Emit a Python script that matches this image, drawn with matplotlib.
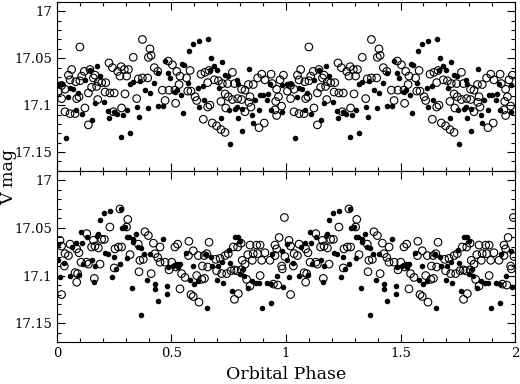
import matplotlib
matplotlib.use("Agg")
import matplotlib.pyplot as plt
import numpy as np
from matplotlib.ticker import MultipleLocator

# Phase-folded photometry, phase 0-1 (plotted twice, 0-2)
top_open_phase = [0.100, 0.227, 0.242, 0.144, 0.119, 0.050, 0.064, 0.057, 0.082, 0.100,
                  0.108, 0.020, 0.006, 0.035, 0.159, 0.166, 0.181, 0.195, 0.213, 0.173,
                  0.151, 0.137, 0.210, 0.231, 0.250, 0.020, 0.086, 0.096, 0.178, 0.122,
                  0.035, 0.057, 0.079, 0.137, 0.246,
                  0.373, 0.406, 0.333, 0.399, 0.411, 0.486, 0.504, 0.280, 0.294, 0.312,
                  0.265, 0.275, 0.304, 0.425, 0.440, 0.355, 0.373, 0.396, 0.489, 0.460,
                  0.297, 0.348, 0.518, 0.472, 0.282, 0.515,
                  0.523, 0.581, 0.629, 0.646, 0.664, 0.766, 0.537, 0.566, 0.658, 0.687,
                  0.705, 0.722, 0.745, 0.775, 0.533, 0.585, 0.571, 0.603, 0.610, 0.734,
                  0.748, 0.766, 0.668, 0.658, 0.716, 0.737, 0.639, 0.678, 0.697, 0.716,
                  0.734,
                  0.894, 0.935, 0.989, 0.876, 0.908, 0.836, 0.857, 0.806, 0.821, 0.940,
                  0.959, 0.974, 0.789, 0.806, 0.843, 0.838, 0.847, 0.967, 0.955, 0.821,
                  0.952, 0.959, 0.981, 0.905, 0.882]
top_open_mag = [17.038, 17.055, 17.060, 17.062, 17.064, 17.068, 17.062, 17.073, 17.075, 17.074,
                17.069, 17.079, 17.085, 17.083, 17.071, 17.068, 17.075, 17.076, 17.076, 17.080,
                17.081, 17.087, 17.086, 17.087, 17.087, 17.093, 17.093, 17.091, 17.094, 17.103,
                17.107, 17.109, 17.109, 17.121, 17.107,
                17.030, 17.040, 17.049, 17.049, 17.047, 17.053, 17.057, 17.059, 17.062, 17.062,
                17.064, 17.069, 17.069, 17.060, 17.064, 17.072, 17.071, 17.071, 17.084, 17.084,
                17.088, 17.093, 17.098, 17.095, 17.103, 17.084,
                17.064, 17.063, 17.067, 17.065, 17.063, 17.065, 17.069, 17.071, 17.076, 17.073,
                17.074, 17.077, 17.077, 17.077, 17.078, 17.085, 17.085, 17.091, 17.095, 17.088,
                17.091, 17.094, 17.100, 17.102, 17.096, 17.103, 17.115, 17.119, 17.122, 17.126,
                17.129,
                17.067, 17.067, 17.068, 17.071, 17.073, 17.078, 17.078, 17.083, 17.084, 17.077,
                17.083, 17.073, 17.093, 17.094, 17.091, 17.097, 17.102, 17.091, 17.096, 17.107,
                17.105, 17.111, 17.101, 17.119, 17.124]

top_filled_phase = [0.173, 0.144, 0.006, 0.020, 0.071, 0.057, 0.122, 0.188, 0.093, 0.050,
                    0.166, 0.207, 0.082, 0.108, 0.224, 0.227, 0.250, 0.151, 0.038,
                    0.472, 0.443, 0.486, 0.494, 0.425, 0.319, 0.333, 0.362, 0.384, 0.406,
                    0.515, 0.348, 0.396, 0.440, 0.464, 0.304, 0.290, 0.261, 0.358, 0.319,
                    0.280,
                    0.595, 0.620, 0.661, 0.577, 0.673, 0.719, 0.544, 0.556, 0.687, 0.697,
                    0.668, 0.734, 0.571, 0.639, 0.708, 0.748, 0.523, 0.542, 0.617, 0.644,
                    0.620, 0.777, 0.751, 0.552, 0.716, 0.756,
                    0.838, 0.785, 0.792, 0.930, 0.981, 0.887, 0.901, 0.923, 0.916, 0.865,
                    0.785, 0.809, 0.882, 0.935, 0.981, 0.792, 0.850, 0.857, 0.809]
top_filled_mag = [17.058, 17.062, 17.077, 17.077, 17.083, 17.082, 17.073, 17.069, 17.087, 17.091,
                  17.098, 17.097, 17.105, 17.109, 17.106, 17.114, 17.107, 17.116, 17.135,
                  17.053, 17.066, 17.066, 17.071, 17.076, 17.077, 17.075, 17.074, 17.084, 17.087,
                  17.086, 17.102, 17.103, 17.101, 17.101, 17.105, 17.111, 17.109, 17.113, 17.130,
                  17.134,
                  17.035, 17.032, 17.030, 17.042, 17.050, 17.054, 17.056, 17.057, 17.058, 17.062,
                  17.062, 17.068, 17.076, 17.080, 17.082, 17.069, 17.084, 17.089, 17.082, 17.094,
                  17.102, 17.104, 17.105, 17.108, 17.114, 17.141,
                  17.061, 17.073, 17.077, 17.077, 17.078, 17.089, 17.089, 17.088, 17.094, 17.094,
                  17.102, 17.104, 17.105, 17.105, 17.107, 17.114, 17.111, 17.119, 17.127]

bot_open_phase = [0.231, 0.130, 0.013, 0.020, 0.057, 0.086, 0.096, 0.035, 0.159, 0.166,
                  0.151, 0.207, 0.195, 0.181, 0.253, 0.050, 0.105, 0.130, 0.137, 0.188,
                  0.250, 0.032, 0.079, 0.090, 0.086, 0.163, 0.020,
                  0.275, 0.309, 0.304, 0.384, 0.399, 0.421, 0.450, 0.268, 0.282, 0.355,
                  0.319, 0.428, 0.440, 0.362, 0.377, 0.450, 0.472, 0.501, 0.518, 0.489,
                  0.358, 0.411, 0.515,
                  0.576, 0.664, 0.527, 0.595, 0.617, 0.574, 0.643, 0.654, 0.693, 0.712,
                  0.734, 0.748, 0.770, 0.635, 0.658, 0.697, 0.719, 0.741, 0.760, 0.775,
                  0.544, 0.559, 0.610, 0.632, 0.644, 0.537, 0.585, 0.595, 0.620, 0.775,
                  0.993, 0.970, 0.804, 0.843, 0.872, 0.887, 0.789, 0.952, 0.959, 0.995,
                  0.833, 0.857, 0.876, 0.908, 0.952, 0.809, 0.821, 0.853, 0.894, 0.930,
                  0.981, 0.984, 0.804, 0.887, 0.785, 0.828, 0.945, 0.964, 0.843, 0.792]
bot_open_mag = [17.049, 17.056, 17.063, 17.069, 17.067, 17.072, 17.076, 17.077, 17.063, 17.069,
                17.070, 17.062, 17.062, 17.071, 17.072, 17.079, 17.086, 17.086, 17.088, 17.088,
                17.092, 17.090, 17.097, 17.098, 17.107, 17.103, 17.120,
                17.030, 17.041, 17.049, 17.054, 17.058, 17.066, 17.070, 17.070, 17.070, 17.067,
                17.078, 17.077, 17.081, 17.084, 17.083, 17.086, 17.086, 17.086, 17.091, 17.094,
                17.096, 17.098, 17.070,
                17.064, 17.065, 17.067, 17.074, 17.079, 17.079, 17.079, 17.077, 17.083, 17.082,
                17.079, 17.077, 17.070, 17.090, 17.091, 17.095, 17.098, 17.098, 17.095, 17.094,
                17.098, 17.102, 17.100, 17.104, 17.103, 17.114, 17.120, 17.122, 17.128, 17.125,
                17.039, 17.060, 17.066, 17.068, 17.068, 17.068, 17.070, 17.068, 17.072, 17.080,
                17.078, 17.077, 17.077, 17.076, 17.079, 17.084, 17.088, 17.084, 17.084, 17.084,
                17.090, 17.093, 17.094, 17.100, 17.095, 17.104, 17.109, 17.110, 17.111, 17.119]

bot_filled_phase = [0.207, 0.231, 0.188, 0.173, 0.181, 0.105, 0.130, 0.108, 0.082, 0.006,
                    0.064, 0.006, 0.032, 0.115, 0.151, 0.166, 0.210, 0.224, 0.250, 0.057,
                    0.096, 0.013, 0.239, 0.163,
                    0.280, 0.285, 0.297, 0.304, 0.315, 0.333, 0.344, 0.333, 0.355, 0.367,
                    0.464, 0.381, 0.406, 0.486, 0.508, 0.275, 0.304, 0.256, 0.391, 0.428,
                    0.430, 0.326, 0.479, 0.479, 0.443, 0.367,
                    0.777, 0.751, 0.649, 0.673, 0.562, 0.523, 0.537, 0.530, 0.595, 0.678,
                    0.702, 0.722, 0.726, 0.697, 0.581, 0.600, 0.614, 0.766, 0.654, 0.756,
                    0.792, 0.799, 0.938, 0.981, 0.814, 0.799, 0.818, 0.959, 0.850, 0.868,
                    0.882, 0.916, 0.935, 0.988, 0.836, 0.935, 0.894]
bot_filled_mag = [17.034, 17.032, 17.042, 17.058, 17.056, 17.054, 17.060, 17.066, 17.066, 17.067,
                  17.070, 17.084, 17.087, 17.088, 17.084, 17.090, 17.076, 17.077, 17.080, 17.100,
                  17.099, 17.102, 17.102, 17.107,
                  17.030, 17.050, 17.049, 17.059, 17.060, 17.062, 17.056, 17.065, 17.070, 17.071,
                  17.062, 17.077, 17.077, 17.091, 17.090, 17.088, 17.082, 17.093, 17.105, 17.109,
                  17.114, 17.113, 17.111, 17.119, 17.127, 17.141,
                  17.060, 17.073, 17.077, 17.081, 17.076, 17.088, 17.088, 17.091, 17.090, 17.090,
                  17.090, 17.086, 17.108, 17.105, 17.105, 17.109, 17.106, 17.116, 17.134, 17.087,
                  17.059, 17.064, 17.077, 17.074, 17.093, 17.098, 17.100, 17.101, 17.106, 17.108,
                  17.108, 17.108, 17.109, 17.112, 17.113, 17.129, 17.134]

yticks = [17.0, 17.05, 17.1, 17.15]
yticklabels = ['17', '17.05', '17.1', '17.15']
xticks = [0, 0.5, 1, 1.5, 2]
xticklabels = ['0', '0.5', '1', '1.5', '2']

plt.rcParams['font.family'] = ['DejaVu Serif']

fig = plt.figure(figsize=(5.2, 3.84), dpi=100)
ax_top = fig.add_axes([0.1096, 0.555, 0.8808, 0.440])
ax_bot = fig.add_axes([0.1096, 0.109, 0.8808, 0.446])

panels = [(ax_top, top_open_phase, top_open_mag, top_filled_phase, top_filled_mag),
          (ax_bot, bot_open_phase, bot_open_mag, bot_filled_phase, bot_filled_mag)]

for ax, op, om, fp, fm in panels:
    op = np.array(op); om = np.array(om)
    fp = np.array(fp); fm = np.array(fm)
    # filled first, then open circles (transparent) on top
    ax.scatter(np.concatenate([fp, fp + 1]), np.concatenate([fm, fm]),
               s=16, c='k', linewidths=0)
    ax.scatter(np.concatenate([op, op + 1]), np.concatenate([om, om]),
               s=30, facecolors='none', edgecolors='k', linewidths=0.8)
    ax.set_xlim(0, 2)
    ax.set_ylim(17.17, 16.99)
    ax.set_yticks(yticks)
    ax.set_yticklabels(yticklabels)
    ax.set_xticks(xticks)
    ax.xaxis.set_minor_locator(MultipleLocator(0.1))
    ax.yaxis.set_minor_locator(MultipleLocator(0.01))
    ax.tick_params(which='both', direction='in', top=True, right=True,
                   labelsize=9.5, width=0.8)
    ax.tick_params(which='major', length=6)
    ax.tick_params(which='minor', length=3)
    for sp in ax.spines.values():
        sp.set_linewidth(0.8)

ax_top.set_xticklabels([])
ax_bot.set_xticklabels(xticklabels)
ax_bot.set_xlabel('Orbital Phase', fontsize=12.5, labelpad=4)
fig.text(0.016, 0.54, 'V mag', rotation=90, ha='center', va='center', fontsize=12.5)

fig.savefig('out.png', dpi=100)
